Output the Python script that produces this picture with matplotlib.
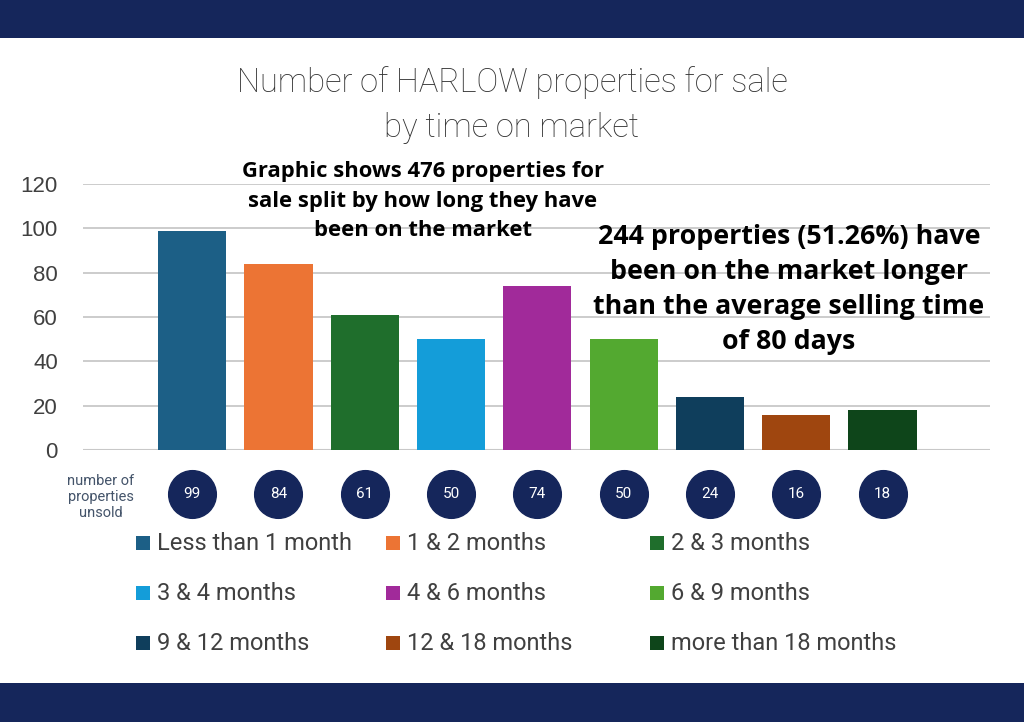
import matplotlib.pyplot as plt
from matplotlib.patches import Rectangle

# Data
categories = ['Less than 1 month', '1 & 2 months', '2 & 3 months',
              '3 & 4 months', '4 & 6 months', '6 & 9 months',
              '9 & 12 months', '12 & 18 months', 'more than 18 months']
counts = [99, 84, 61, 50, 74, 50, 24, 16, 18]
colors = ['#1c5f86', '#ec7434', '#1f6e2c', '#149dd9', '#a12a9a',
          '#53a930', '#0f3e5c', '#9f460f', '#0e451a']
yticks = [0, 20, 40, 60, 80, 100, 120]

NAVY = '#15265b'
TEXT = '#404040'

plt.rcParams['font.family'] = ['Roboto', 'DejaVu Sans']

fig = plt.figure(figsize=(10.24, 7.22), dpi=100)
fig.patch.set_facecolor('white')

# navy bands top and bottom
fig.add_artist(Rectangle((0, 1 - 38 / 722), 1, 38 / 722, transform=fig.transFigure,
                         facecolor=NAVY, edgecolor='none'))
fig.add_artist(Rectangle((0, 0), 1, 39 / 722, transform=fig.transFigure,
                         facecolor=NAVY, edgecolor='none'))

# main bar axes
ax = fig.add_axes([83 / 1024, 272 / 722, 907 / 1024, 266 / 722])
x = list(range(len(categories)))
ax.bar(x, counts, width=0.79, color=colors, zorder=3)
ax.set_xlim(-1.265, 9.245)
ax.set_ylim(0, 120)
ax.set_yticks(yticks)
ax.set_yticklabels([str(t) for t in yticks], fontsize=16, color=TEXT,
                   family=['Liberation Sans', 'DejaVu Sans'])
ax.tick_params(axis='y', length=0, pad=18)
ax.set_xticks([])
ax.grid(axis='y', color='#c8c8c8', linewidth=1.3, zorder=0)
for s in ax.spines.values():
    s.set_visible(False)
ax.axhline(0, color='#c8c8c8', linewidth=1.5, zorder=2)

# circle row with the counts
cax = fig.add_axes([83 / 1024, (722 - 520) / 722, 907 / 1024, 52 / 722])
cax.set_xlim(ax.get_xlim())
cax.set_ylim(0, 1)
cax.axis('off')
cax.scatter(x, [0.5] * len(x), s=1180, color=NAVY, zorder=3)
for xi, c in zip(x, counts):
    cax.text(xi, 0.5, str(c), ha='center', va='center', color='white',
             fontsize=11, zorder=4)

fig.text(101 / 1024, 1 - 497 / 722, 'number of\nproperties\nunsold', ha='center',
         va='center', fontsize=10.5, color='#44546a', linespacing=1.2)

# legend laid out row by row, three per row
col_x = [136, 386, 650]
row_y = [543, 593, 643]
for i, (lab, col) in enumerate(zip(categories, colors)):
    r, c = divmod(i, 3)
    fig.add_artist(Rectangle((col_x[c] / 1024, 1 - (row_y[r] + 7) / 722),
                             14 / 1024, 14 / 722, transform=fig.transFigure,
                             facecolor=col, edgecolor='none'))
    fig.text((col_x[c] + 21) / 1024, 1 - row_y[r] / 722, lab, ha='left',
             va='center', fontsize=17, color=TEXT)

# titles and notes
fig.text(0.5, 1 - 105 / 722, 'Number of HARLOW properties for sale\nby time on market',
         ha='center', va='center', fontsize=23.5, color='#333333', fontweight='light',
         linespacing=1.5)

fig.text(423 / 1024, 1 - 201 / 722,
         'Graphic shows 476 properties for\nsale split by how long they have\nbeen on the market',
         ha='center', va='center', fontsize=15.8, fontweight='bold', color='black',
         family=['Open Sans', 'DejaVu Sans'], linespacing=1.55)

fig.text(789 / 1024, 1 - 289 / 722,
         '244 properties (51.26%) have\nbeen on the market longer\nthan the average selling time\nof 80 days',
         ha='center', va='center', fontsize=19.3, fontweight='bold', color='black',
         family=['Open Sans', 'DejaVu Sans'], linespacing=1.45)

fig.savefig('out.png', dpi=100)
